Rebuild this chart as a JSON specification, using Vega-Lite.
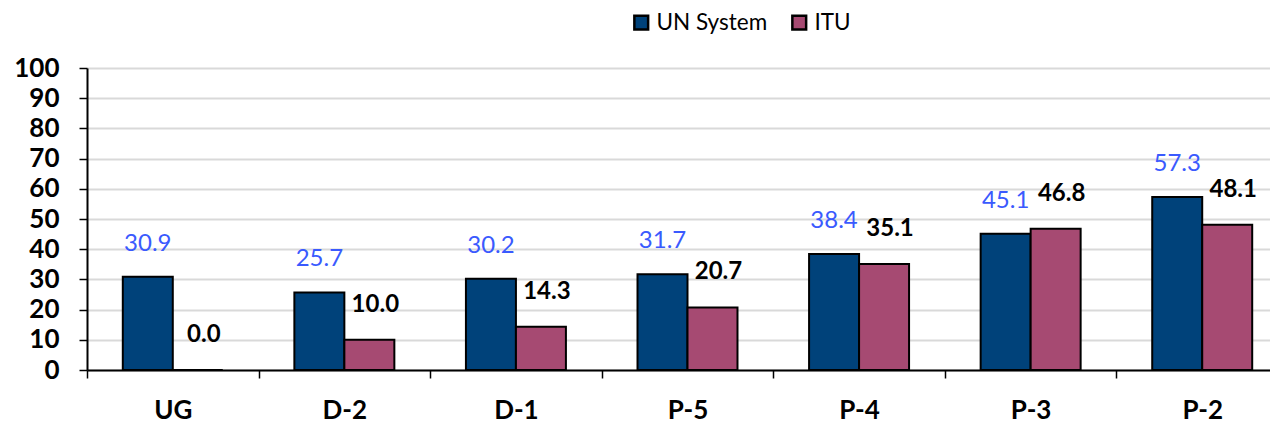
{
  "$schema": "https://vega.github.io/schema/vega-lite/v6.json",
  "autosize": {"type": "none"},
  "padding": {"left": 87, "top": 68, "right": 0, "bottom": 55},
  "width": 1201,
  "height": 302,
  "background": "white",
  "config": {
    "font": "Lato",
    "view": {"stroke": null}
  },
  "data": {
    "values": [
      {"grade": "UG", "series": "UN System", "value": 30.9},
      {"grade": "UG", "series": "ITU", "value": 0.0},
      {"grade": "D-2", "series": "UN System", "value": 25.7},
      {"grade": "D-2", "series": "ITU", "value": 10.0},
      {"grade": "D-1", "series": "UN System", "value": 30.2},
      {"grade": "D-1", "series": "ITU", "value": 14.3},
      {"grade": "P-5", "series": "UN System", "value": 31.7},
      {"grade": "P-5", "series": "ITU", "value": 20.7},
      {"grade": "P-4", "series": "UN System", "value": 38.4},
      {"grade": "P-4", "series": "ITU", "value": 35.1},
      {"grade": "P-3", "series": "UN System", "value": 45.1},
      {"grade": "P-3", "series": "ITU", "value": 46.8},
      {"grade": "P-2", "series": "UN System", "value": 57.3},
      {"grade": "P-2", "series": "ITU", "value": 48.1}
    ]
  },
  "encoding": {
    "x": {
      "field": "grade", "type": "nominal", "sort": null,
      "scale": {"paddingInner": 0, "paddingOuter": 0},
      "axis": {
        "title": null, "labelAngle": 0, "labelFont": "Lato", "labelFontSize": 26,
        "labelFontWeight": "bold", "labelColor": "black", "labelPadding": 19,
        "tickBand": "extent", "tickSize": 8, "tickColor": "black", "tickWidth": 1.5,
        "domainColor": "black", "domainWidth": 2, "grid": false
      }
    },
    "xOffset": {
      "field": "series", "type": "nominal", "sort": ["UN System", "ITU"],
      "scale": {"paddingInner": 0, "paddingOuter": 0.716}
    },
    "y": {
      "field": "value", "type": "quantitative",
      "scale": {"domain": [0, 100], "nice": false},
      "axis": {
        "title": null, "values": [0,10,20,30,40,50,60,70,80,90,100],
        "labelFont": "Lato", "labelFontSize": 26, "labelFontWeight": "bold",
        "labelColor": "black", "labelPadding": 20, "tickSize": 8, "tickColor": "black",
        "tickWidth": 1.5, "domainColor": "black", "domainWidth": 2,
        "grid": true, "gridColor": "#d9d9d9", "gridWidth": 2
      }
    }
  },
  "layer": [
    {
      "mark": {"type": "bar", "stroke": "black", "strokeWidth": 2},
      "encoding": {
        "color": {
          "field": "series", "type": "nominal", "sort": ["UN System", "ITU"],
          "scale": {"domain": ["UN System", "ITU"], "range": ["#00427a", "#a64a72"]},
          "legend": {
            "title": null, "orient": "none", "direction": "horizontal",
            "legendX": 543, "legendY": -57,
            "symbolType": "square", "symbolSize": 190, "symbolStrokeColor": "black",
            "symbolStrokeWidth": 2.5, "symbolOpacity": 1,
            "labelFont": "Lato", "labelFontSize": 22.5, "labelColor": "black",
            "labelOffset": 4, "columnPadding": 19
          }
        }
      }
    },
    {
      "transform": [{"filter": "datum.series === 'UN System'"}],
      "mark": {"type": "text", "baseline": "middle", "align": "center", "dy": -33,
               "font": "Lato", "fontSize": 24, "color": "#3a5afe"},
      "encoding": {"text": {"field": "value", "type": "quantitative", "format": ".1f"}}
    },
    {
      "transform": [{"filter": "datum.series === 'ITU'"}],
      "mark": {"type": "text", "baseline": "middle", "align": "center", "dy": -35, "dx": 6,
               "font": "Lato", "fontSize": 24, "fontWeight": "bold", "color": "black"},
      "encoding": {"text": {"field": "value", "type": "quantitative", "format": ".1f"}}
    }
  ]
}
